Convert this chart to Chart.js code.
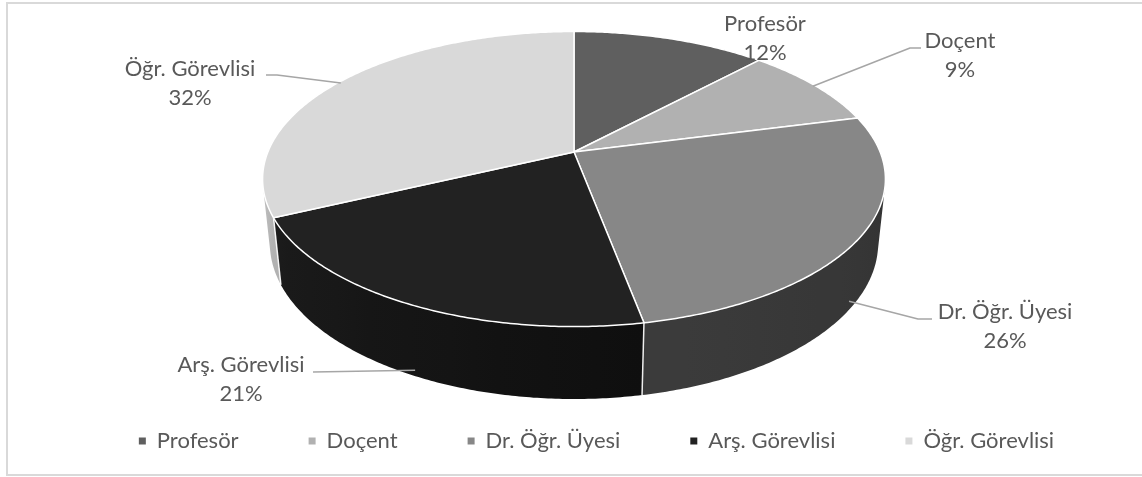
<!DOCTYPE html>
<html><head><meta charset="utf-8">
<script src="https://cdn.jsdelivr.net/npm/chart.js@4.4.0/dist/chart.umd.min.js"></script>
<style>html,body{margin:0;padding:0;background:#fff;}canvas{display:block;}</style>
</head><body>
<canvas id="c" width="1142" height="477"></canvas>
<script>
// ---- data ----
const categories = ['Profesör', 'Doçent', 'Dr. Öğr. Üyesi', 'Arş. Görevlisi', 'Öğr. Görevlisi'];
const values = [12, 9, 26, 21, 32];

// ---- styles ----
const sliceColors = ['#5f5f5f', '#b1b1b1', '#878787', '#222222', '#d9d9d9'];
const FONT = '22px Lato, "Open Sans", sans-serif';
const TEXT_COLOR = '#595959';

// 3D projection geometry (layout)
const G = { cx: 574, cy: 152, f: 1478, D: 4.828, sinA: 0.4657, cosA: 0.8849, T: 0.2395 };
function proj(phi, z, r) {
  r = r === undefined ? 1 : r;
  const X = r * Math.sin(phi), Y = r * Math.cos(phi);
  const depth = G.D + Y * G.cosA - z * G.sinA;
  return [G.cx + G.f * X / depth, G.cy - G.f * (Y * G.sinA + z * G.cosA) / depth];
}
function shadeFactor(phi) {
  const d = phi * 180 / Math.PI;
  const pts = [[90, 0.37], [103, 0.38], [169, 0.44], [170, 0.42], [245, 0.82], [257, 0.9], [270, 0.92]];
  for (let k = 0; k < pts.length - 1; k++) {
    if (d >= pts[k][0] && d <= pts[k + 1][0]) {
      const t = (d - pts[k][0]) / (pts[k + 1][0] - pts[k][0]);
      return pts[k][1] + t * (pts[k + 1][1] - pts[k][1]);
    }
  }
  return 0.5;
}
function shade(hex, f) {
  const n = parseInt(hex.slice(1), 16);
  const r = Math.round(((n >> 16) & 255) * f), g = Math.round(((n >> 8) & 255) * f), b = Math.round((n & 255) * f);
  return 'rgb(' + r + ',' + g + ',' + b + ')';
}

// label layout: first-line centre, leader elbow and end
const labelLayout = [
  { x: 765, y: 24, leader: null },
  { x: 960, y: 41, leader: { elbow: [910, 48], end: [921, 48], onSide: false } },
  { x: 1005, y: 312, leader: { elbow: [918, 319], end: [932, 319], onSide: true } },
  { x: 241, y: 365, leader: { elbow: [313, 372], end: [313, 372], onSide: true } },
  { x: 190, y: 69, leader: { elbow: [277, 75], end: [266, 75], onSide: false } }
];

const pie3d = {
  id: 'pie3d',
  beforeDraw(chart) {
    const ctx = chart.ctx;
    ctx.save();
    ctx.strokeStyle = '#d9d9d9';
    ctx.lineWidth = 2;
    ctx.strokeRect(7, 3, 1200, 472);
    ctx.restore();
  },
  beforeDatasetsDraw(chart) {
    const ctx = chart.ctx;
    const meta = chart.getDatasetMeta(0);
    const ds = chart.data.datasets[0];
    const total = ds.data.reduce((a, b) => a + b, 0);
    const arcs = meta.data.map((a, i) => ({ s: a.startAngle + Math.PI / 2, e: a.endAngle + Math.PI / 2, i }));
    const lo = Math.acos(-1 / (G.D * G.cosA)), hi = 2 * Math.PI - lo;
    ctx.save();
    // outer walls
    arcs.forEach(({ s, e, i }) => {
      const a = Math.max(s, lo), b = Math.min(e, hi);
      if (b <= a) return;
      const n = Math.max(2, Math.ceil((b - a) / 0.01));
      ctx.beginPath();
      for (let k = 0; k <= n; k++) {
        const p = proj(a + (b - a) * k / n, 0);
        k ? ctx.lineTo(p[0], p[1]) : ctx.moveTo(p[0], p[1]);
      }
      for (let k = n; k >= 0; k--) {
        const p = proj(a + (b - a) * k / n, -G.T);
        ctx.lineTo(p[0], p[1]);
      }
      ctx.closePath();
      const pa = proj(a, 0), pb = proj(b, 0);
      const grad = ctx.createLinearGradient(pa[0], 0, pb[0], 0);
      for (let k = 0; k <= 10; k++) {
        const phi = a + (b - a) * k / 10;
        const x = proj(phi, 0)[0];
        grad.addColorStop(Math.min(1, Math.max(0, (x - pa[0]) / (pb[0] - pa[0]))), shade(sliceColors[i], shadeFactor(phi)));
      }
      ctx.fillStyle = grad;
      ctx.fill();
    });
    // wall separators
    ctx.strokeStyle = 'rgba(255,255,255,0.9)';
    ctx.lineWidth = 1.5;
    arcs.forEach(({ s }) => {
      if (s > lo && s < hi) {
        const p1 = proj(s, 0), p2 = proj(s, -G.T);
        ctx.beginPath(); ctx.moveTo(p1[0], p1[1]); ctx.lineTo(p2[0], p2[1]); ctx.stroke();
      }
    });
    // top faces
    arcs.forEach(({ s, e, i }) => {
      const n = Math.max(2, Math.ceil((e - s) / 0.01));
      ctx.beginPath();
      ctx.moveTo(G.cx, G.cy);
      for (let k = 0; k <= n; k++) {
        const p = proj(s + (e - s) * k / n, 0);
        ctx.lineTo(p[0], p[1]);
      }
      ctx.closePath();
      ctx.fillStyle = sliceColors[i];
      ctx.fill();
      ctx.lineJoin = 'round';
      ctx.strokeStyle = '#ffffff';
      ctx.lineWidth = 1.5;
      ctx.stroke();
    });
    // labels
    ctx.font = FONT;
    ctx.fillStyle = TEXT_COLOR;
    ctx.textAlign = 'center';
    ctx.textBaseline = 'middle';
    arcs.forEach(({ s, e, i }) => {
      const L = labelLayout[i];
      const mid = (s + e) / 2;
      if (L.leader) {
        const z = L.leader.onSide ? -G.T * 0.97 : 0;
        const p = proj(mid, z, L.leader.onSide ? 0.985 : 0.99);
        ctx.strokeStyle = '#a6a6a6';
        ctx.lineWidth = 1.5;
        ctx.beginPath();
        ctx.moveTo(p[0], p[1]);
        ctx.lineTo(L.leader.elbow[0], L.leader.elbow[1]);
        ctx.lineTo(L.leader.end[0], L.leader.end[1]);
        ctx.stroke();
      }
      ctx.fillStyle = TEXT_COLOR;
      ctx.fillText(categories[i], L.x, L.y);
      const pct = Math.round(ds.data[i] / total * 100) + '%';
      ctx.fillText(pct, L.x, L.y + 29);
    });
    ctx.restore();
    return false;
  }
};

new Chart(document.getElementById('c'), {
  type: 'pie',
  data: {
    labels: categories,
    datasets: [{ data: values, backgroundColor: sliceColors, borderWidth: 0 }]
  },
  options: {
    responsive: false,
    animation: false,
    layout: { padding: { left: 51, right: 0, top: 0, bottom: 15 } },
    plugins: {
      tooltip: { enabled: false },
      legend: {
        position: 'bottom',
        labels: {
          boxWidth: 7, boxHeight: 7, padding: 70,
          color: TEXT_COLOR,
          font: { family: 'Lato, "Open Sans", sans-serif', size: 22 }
        }
      }
    }
  },
  plugins: [pie3d]
});
</script>
</body></html>
